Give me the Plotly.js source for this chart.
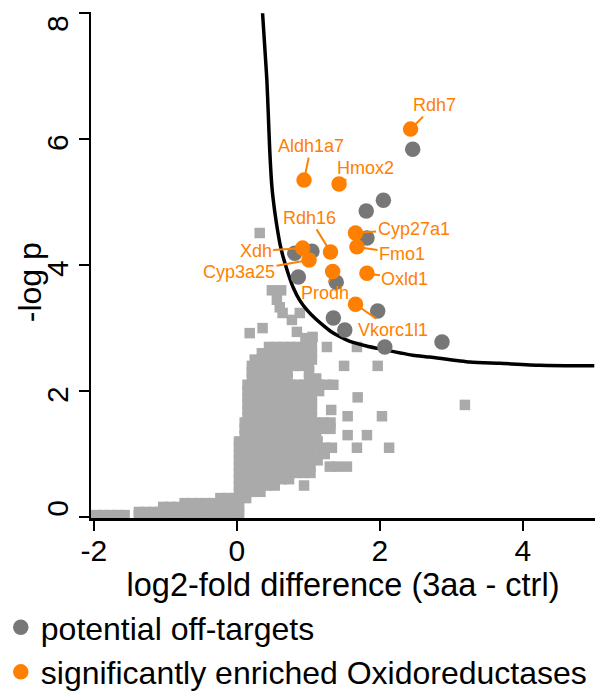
<!DOCTYPE html>
<html>
<head>
<meta charset="utf-8">
<script src="https://cdn.plot.ly/plotly-3.0.1.min.js"></script>
<style>html,body{margin:0;padding:0;background:#fff;}#chart{width:595px;height:691px;}</style>
</head>
<body>
<div id="chart"></div>
<script>
// ---------- data ----------
// background proteins (light gray squares), given row by row (y value, x values)
var bgRowY = [0.03, 0.08, 0.16, 0.22, 0.30, 0.40, 0.50, 0.60, 0.70, 0.80, 0.90, 1.00, 1.10, 1.20, 1.30,
              1.40, 1.50, 1.60, 1.70, 1.80, 1.90, 2.00, 2.10, 2.20, 2.30, 2.40, 2.50, 2.60, 2.70];
var bgRowX = [
  [-1.97,-1.87,-1.77,-1.67,-1.57,-1.37,-1.27,-1.17,-1.07,-0.97,-0.87,-0.77,-0.67,-0.57,-0.47,-0.37,-0.27,-0.17,-0.07,0.03],
  [-1.37,-1.27,-1.17,-1.07,-0.97,-0.87,-0.77,-0.67,-0.57,-0.47,-0.37,-0.27,-0.17,-0.07,0.03],
  [-1.03,-0.93,-0.83,-0.73,-0.63,-0.53,-0.43,-0.33,-0.23,-0.13,-0.03,0.03],
  [-0.73,-0.63,-0.53,-0.43,-0.33,-0.23,-0.13,-0.03,0.03],
  [-0.23,-0.13,-0.03,0.03,0.13],
  [0.03,0.13,0.23,0.33],
  [0.03,0.13,0.23,0.33,0.43,0.53,0.94],
  [0.03,0.13,0.23,0.33,0.43,0.53,0.63,0.73],
  [0.03,0.13,0.23,0.33,0.43,0.53,0.63,0.73,0.83,0.93,1.03],
  [0.03,0.13,0.23,0.33,0.43,0.53,0.63,0.73,0.83,0.93,1.03,1.30,1.40,1.54],
  [0.03,0.13,0.23,0.33,0.43,0.53,0.63,0.73,0.83,0.93,1.03,1.13],
  [0.03,0.13,0.23,0.33,0.43,0.53,0.63,0.73,0.83,0.93,1.03,1.13,1.23],
  [0.03,0.13,0.23,0.33,0.43,0.53,0.63,0.73,0.83,0.93,1.03,1.13,1.23,1.33,1.68,2.13],
  [0.03,0.13,0.23,0.33,0.43,0.53,0.63,0.73,0.83,0.93,1.03,1.13],
  [0.11,0.21,0.31,0.41,0.51,0.61,0.71,0.81,0.91,1.01,1.11,1.55,1.82],
  [0.11,0.21,0.31,0.41,0.51,0.61,0.71,0.81,0.91,1.01,1.11,1.21,1.31],
  [0.11,0.21,0.31,0.41,0.51,0.61,0.71,0.81,0.91,1.01,1.11,1.21,1.31],
  [0.15,0.25,0.35,0.45,0.55,0.65,0.75,0.85,0.95,1.05,1.55,2.03],
  [0.15,0.25,0.35,0.45,0.55,0.65,0.75,0.85,0.95,1.05,1.32],
  [0.15,0.25,0.35,0.45,0.55,0.65,0.75,0.85,0.95,1.05],
  [0.15,0.25,0.35,0.45,0.55,0.65,0.75,0.85,0.95,1.05,1.69],
  [0.15,0.25,0.35,0.45,0.55,0.65,0.75,0.85,0.95,1.05,1.15],
  [0.15,0.25,0.35,0.45,0.55,0.65,0.75,0.85,0.95,1.05,1.15,1.25,1.35],
  [0.21,0.31,0.41,0.51,0.61,0.71,1.01,1.11],
  [0.21,0.31,0.41,0.51,0.61,0.71,1.01],
  [0.21,0.31,0.41,0.51,0.61,0.71,0.81,0.91,1.01,1.50,1.97],
  [0.25,0.35,0.45,0.55,0.65,0.75,0.85,0.95,1.05],
  [0.35,0.45,0.55,0.65,0.75,0.85,0.95,1.05],
  [0.45,0.55,0.65,0.75,0.85,0.95,1.05,1.26,1.68]
];
// isolated background proteins
var bgExtraX = [0.18, 0.36, 0.84, 0.96, 1.06, 0.64, 0.88, 0.77, 0.49, 0.62, 0.56, 0.60, 0.32, 3.19];
var bgExtraY = [2.92, 3.00, 2.94, 2.84, 2.86, 3.24, 3.24, 3.13, 3.60, 3.60, 3.45, 3.33, 4.51, 1.78];

// significance threshold curve
var thrX = [0.36, 0.40, 0.42, 0.44, 0.46, 0.49, 0.53, 0.57, 0.61, 0.66, 0.72, 0.79, 0.88, 0.98, 1.09, 1.20, 1.31, 1.43, 1.58, 1.80, 2.00, 2.46, 2.70, 3.26, 3.68, 4.24, 5.00];
var thrY = [8.00, 7.30, 6.94, 6.40, 5.83, 5.25, 4.85, 4.55, 4.30, 4.08, 3.86, 3.64, 3.44, 3.29, 3.16, 3.05, 2.95, 2.87, 2.79, 2.72, 2.67, 2.57, 2.54, 2.46, 2.44, 2.41, 2.40];

// potential off-targets (dark gray circles)
var offX = [2.46, 2.05, 1.81, 1.82, 1.05, 0.81, 0.86, 1.39, 1.97, 1.35, 1.51, 2.07, 2.87];
var offY = [5.84, 5.03, 4.86, 4.43, 4.22, 4.19, 3.81, 3.73, 3.27, 3.16, 2.97, 2.70, 2.78];

// significantly enriched oxidoreductases (orange circles)
var oxNames = ['Rdh7', 'Aldh1a7', 'Hmox2', 'Rdh16', 'Cyp27a1', 'Fmo1', 'Xdh', 'Cyp3a25', 'Prodh', 'Oxld1', 'Vkorc1l1'];
var oxX = [2.43, 0.94, 1.43, 1.31, 1.66, 1.68, 0.92, 1.01, 1.34, 1.82, 1.66];
var oxY = [6.16, 5.35, 5.29, 4.21, 4.51, 4.29, 4.27, 4.08, 3.90, 3.87, 3.38];

var xTicks = [-2, 0, 2, 4];
var yTicks = [0, 2, 4, 6, 8];

// ---------- styling ----------
// label offsets in pixels
var labelOffsets = {
  'Rdh7': [24, -24], 'Aldh1a7': [7, -34], 'Hmox2': [26, -16], 'Rdh16': [-21, -34],
  'Cyp27a1': [58, -4], 'Fmo1': [45, 7], 'Xdh': [-47, 3], 'Cyp3a25': [-70, 12],
  'Prodh': [-8, 22], 'Oxld1': [38, 6], 'Vkorc1l1': [37, 26]
};
// downward shift of the y tick labels (pixels), as in the original figure
var yLabelShiftPx = [-4, 8, 8, 8, 15];
var Y_RANGE = [-0.016, 8.02];
var PLOT_H = 691 - 12 - 173;
var pxPerUnit = PLOT_H / (Y_RANGE[1] - Y_RANGE[0]);

var ORANGE = '#ff8000', DARK = '#777777', LIGHT = '#aaaaaa';
var FONT = 'Liberation Sans, Arial, Helvetica, sans-serif';

var bgX = [], bgY = [];
bgRowX.forEach(function (row, i) {
  row.forEach(function (x) { bgX.push(x); bgY.push(bgRowY[i]); });
});
bgExtraX.forEach(function (x, i) { bgX.push(x); bgY.push(bgExtraY[i]); });

var traces = [
  { type: 'scatter', mode: 'markers', x: bgX, y: bgY, showlegend: false, cliponaxis: false,
    marker: { symbol: 'square', size: 10.5, color: LIGHT }, hoverinfo: 'skip' },
  { type: 'scatter', mode: 'lines', x: thrX, y: thrY, showlegend: false,
    line: { color: '#000', width: 3.5, shape: 'spline', smoothing: 0.6 }, hoverinfo: 'skip' },
  { type: 'scatter', mode: 'markers', x: offX, y: offY, name: 'potential off-targets',
    marker: { symbol: 'circle', size: 15.5, color: DARK } },
  { type: 'scatter', mode: 'markers', x: oxX, y: oxY, name: 'significantly enriched Oxidoreductases',
    marker: { symbol: 'circle', size: 15.5, color: ORANGE } },
  // carrier for the tick-label axis
  { type: 'scatter', mode: 'markers', x: [], y: [], yaxis: 'y2', showlegend: false, hoverinfo: 'skip' }
];

var annotations = oxNames.map(function (n, i) {
  return { x: oxX[i], y: oxY[i], xref: 'x', yref: 'y', text: n, showarrow: true,
    arrowhead: 0, arrowwidth: 2, arrowcolor: ORANGE, standoff: 7,
    ax: labelOffsets[n][0], ay: labelOffsets[n][1],
    font: { family: FONT, size: 18, color: ORANGE } };
});
annotations.push({ xref: 'paper', yref: 'paper', x: -0.121, y: 0.466, text: '-log p',
  showarrow: false, textangle: -90, xanchor: 'center', yanchor: 'middle',
  font: { family: FONT, size: 32, color: '#000' } });

var layout = {
  width: 595, height: 691,
  margin: { l: 91, r: 0, t: 12, b: 173, pad: 0, autoexpand: false },
  paper_bgcolor: '#fff', plot_bgcolor: '#fff',
  font: { family: FONT, color: '#000' },
  xaxis: {
    range: [-2.04, 5.01], tickvals: xTicks, ticktext: xTicks.map(String),
    ticks: 'outside', ticklen: 10, tickwidth: 2, tickcolor: '#000', ticklabelstandoff: -6,
    showline: true, linewidth: 2.5, linecolor: '#000', showgrid: false, zeroline: false,
    tickfont: { family: FONT, size: 30, color: '#000' },
    title: { text: 'log2-fold difference (3aa - ctrl)', font: { family: FONT, size: 32.5, color: '#000' }, standoff: 4 }
  },
  yaxis: {
    range: Y_RANGE, tickvals: yTicks, showticklabels: false,
    ticks: 'outside', ticklen: 10, tickwidth: 2, tickcolor: '#000',
    showline: true, linewidth: 2.5, linecolor: '#000', showgrid: false, zeroline: false
  },
  yaxis2: {
    overlaying: 'y', side: 'left', anchor: 'x', range: Y_RANGE,
    tickvals: yTicks.map(function (v, i) { return v - yLabelShiftPx[i] / pxPerUnit; }),
    ticktext: yTicks.map(String), tickangle: -90,
    ticks: 'outside', ticklen: 10, tickwidth: 2, tickcolor: 'rgba(0,0,0,0)',
    showline: false, showgrid: false, zeroline: false,
    tickfont: { family: FONT, size: 30, color: '#000' }
  },
  showlegend: true,
  legend: { x: -0.179, y: -0.162, xanchor: 'left', yanchor: 'top', bgcolor: 'rgba(0,0,0,0)',
    font: { family: FONT, size: 32, color: '#000' }, tracegroupgap: 0 },
  annotations: annotations
};

Plotly.newPlot('chart', traces, layout, { displayModeBar: false, staticPlot: true });
</script>
</body>
</html>
